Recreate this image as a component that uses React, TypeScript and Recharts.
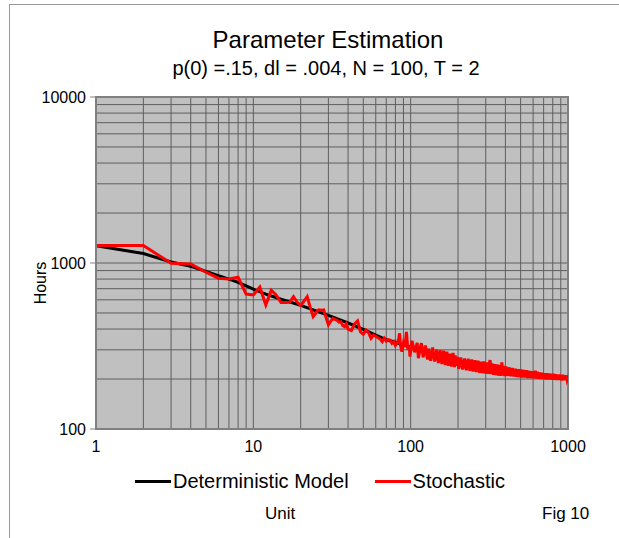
import React from "react";
import {
  CartesianGrid,
  Line,
  LineChart,
  ReferenceArea,
  XAxis,
  YAxis,
} from "recharts";

const FONT = "'Liberation Sans', Arial, sans-serif";

// deterministic model
const modelUnits = [
  1, 2, 3, 4, 5, 6, 7, 8, 9, 10, 12, 15, 20, 25, 30, 40, 50, 60, 70, 80, 90,
  100, 125, 150, 175, 200, 250, 300, 400, 500, 600, 700, 800, 900, 1000,
];
const modelHours = [
  1270, 1140, 1015, 955, 890, 840, 800, 765, 728, 695, 650, 605, 556, 515,
  484, 435, 398, 368, 345, 333, 322, 312, 292, 277, 264, 254, 244, 236, 224,
  217, 213, 210, 208, 206, 204,
];

// stochastic run (red), sampled along the noisy trace
const stochUnits = [
  1, 2, 3, 4, 5, 6, 7, 8, 9, 10,
  11, 12, 13, 14, 15, 16, 17, 18, 19, 20,
  21, 22, 23, 24, 25, 26, 27, 28, 29, 30,
  31, 32, 33, 34, 35, 36, 37, 38, 39, 40,
  42, 44, 46, 48, 50, 52, 54, 56, 58, 60,
  62, 64, 66, 68, 70, 72, 74, 76, 78, 80,
  82, 84, 85, 86, 88, 90, 92, 94, 96, 98,
  99, 102, 106, 110, 112, 116, 117, 120, 124, 128,
  130, 134, 138, 139, 142, 146, 150, 154, 158, 162,
  166, 170, 174, 178, 182, 186, 190, 192, 194, 198,
  202, 208, 214, 220, 226, 232, 238, 244, 250, 256,
  262, 268, 274, 280, 286, 292, 298, 304, 310, 316,
  320, 324, 330, 336, 342, 348, 354, 360, 366, 372,
  380, 384, 390, 396, 404, 414, 424, 434, 444, 454,
  464, 474, 484, 494, 504, 514, 524, 534, 544, 554,
  564, 574, 584, 594, 604, 614, 620, 628, 640, 652,
  664, 676, 688, 700, 712, 724, 736, 748, 760, 772,
  784, 796, 808, 820, 832, 844, 856, 868, 880, 892,
  904, 916, 928, 940, 952, 964, 976, 988, 1000,
];
const stochHours = [
  1275, 1275, 996, 985, 880, 810, 800, 820, 650, 642,
  716, 558, 685, 640, 578, 578, 580, 627, 580, 556,
  590, 627, 540, 476, 500, 522, 520, 522, 470, 424,
  445, 464, 458, 452, 440, 443, 420, 413, 430, 400,
  392, 430, 448, 385, 372, 395, 380, 352, 368, 362,
  355, 348, 336, 352, 338, 345, 343, 328, 336, 318,
  330, 350, 377, 322, 292, 330, 312, 385, 300, 318,
  273, 340, 290, 330, 267, 320, 329, 270, 318, 262,
  305, 258, 310, 292, 255, 300, 250, 298, 246, 296,
  243, 292, 240, 284, 238, 287, 236, 278, 240, 272,
  230, 270, 228, 266, 226, 265, 224, 262, 222, 260,
  220, 258, 218, 254, 217, 255, 216, 252, 215, 250,
  260, 214, 248, 212, 246, 211, 245, 210, 243, 209,
  252, 210, 240, 208, 238, 209, 235, 208, 233, 207,
  231, 206, 229, 205, 228, 204, 227, 204, 226, 203,
  224, 203, 223, 202, 223, 202, 225, 201, 221, 201,
  219, 200, 218, 200, 217, 199, 217, 199, 216, 199,
  215, 198, 215, 198, 214, 197, 213, 197, 213, 197,
  212, 196, 212, 197, 211, 197, 211, 197, 203,
];

const xTicks = [
  1, 2, 3, 4, 5, 6, 7, 8, 9, 10, 20, 30, 40, 50, 60, 70, 80, 90, 100, 200,
  300, 400, 500, 600, 700, 800, 900, 1000,
];
const yTicks = [
  100, 200, 300, 400, 500, 600, 700, 800, 900, 1000, 2000, 3000, 4000, 5000,
  6000, 7000, 8000, 9000, 10000,
];
const xLabels = [1, 10, 100, 1000];
const yLabels = [100, 1000, 10000];

const modelData = modelUnits.map((u, i) => ({ unit: u, hours: modelHours[i] }));
const stochData = stochUnits.map((u, i) => ({ unit: u, hours: stochHours[i] }));

const XTick = (props: any) => {
  const { x, y, payload } = props;
  if (!xLabels.includes(payload.value)) return <g />;
  return (
    <text x={x} y={y} dy="0.71em" textAnchor="middle" fontSize={16} fontFamily={FONT} fill="#000">
      {payload.value}
    </text>
  );
};

const YTick = (props: any) => {
  const { x, y, payload } = props;
  if (!yLabels.includes(payload.value)) return <g />;
  return (
    <g>
      <line x1={x + 6} x2={x + 12} y1={y} y2={y} stroke="#808080" />
      <text x={x + 2} y={y} dy="0.35em" textAnchor="end" fontSize={16} fontFamily={FONT} fill="#000">
        {payload.value}
      </text>
    </g>
  );
};

const text = (extra: React.CSSProperties): React.CSSProperties => ({
  position: "absolute",
  fontFamily: FONT,
  color: "#000",
  whiteSpace: "nowrap",
  lineHeight: 1,
  ...extra,
});

export default function App() {
  return (
    <div style={{ position: "absolute", left: 0, top: 0, width: 619, height: 538, background: "#fff" }}>
      <div style={{ position: "absolute", left: 9, top: 4, width: 610, height: 534, borderLeft: "1px solid #999", borderTop: "1px solid #999" }} />
      <div style={text({ left: 0, width: 656, top: 28, fontSize: 24, textAlign: "center" })}>
        Parameter Estimation
      </div>
      <div style={text({ left: 0, width: 652, top: 58, fontSize: 20, textAlign: "center" })}>
        p(0) =.15, dl = .004, N = 100, T = 2
      </div>
      <div style={{ position: "absolute", left: 0, top: 0 }}>
        <LineChart
          width={619}
          height={538}
          margin={{ top: 97, right: 51, left: 0, bottom: 79 }}
        >
          <CartesianGrid stroke="#5e5e5e" fill="#c0c0c0" strokeWidth={1} />
          <XAxis
            dataKey="unit"
            type="number"
            scale="log"
            domain={[1, 1000]}
            ticks={xTicks}
            interval={0}
            allowDataOverflow
            height={30}
            tickSize={6}
            tickMargin={6}
            tickLine={false}
            tick={<XTick />}
            axisLine={{ stroke: "#808080", strokeWidth: 2 }}
          />
          <YAxis
            dataKey="hours"
            type="number"
            scale="log"
            domain={[100, 10000]}
            ticks={yTicks}
            interval={0}
            allowDataOverflow
            width={96}
            tickSize={6}
            tickMargin={6}
            tickLine={false}
            tick={<YTick />}
            axisLine={{ stroke: "#808080", strokeWidth: 2 }}
          />
          <ReferenceArea x1={1} x2={1000} y1={100} y2={10000} fill="none" stroke="#808080" strokeWidth={2} ifOverflow="visible" />
          <Line
            data={modelData}
            dataKey="hours"
            type="linear"
            stroke="#000"
            strokeWidth={3}
            dot={false}
            isAnimationActive={false}
            name="Deterministic Model"
          />
          <Line
            data={stochData}
            dataKey="hours"
            type="linear"
            stroke="#ff0000"
            strokeWidth={3}
            dot={false}
            isAnimationActive={false}
            name="Stochastic"
          />
        </LineChart>
      </div>
      <div style={text({ left: 32, top: 275, width: 18, fontSize: 16, transform: "rotate(-90deg)", transformOrigin: "center", textAlign: "center", display: "flex", justifyContent: "center" })}>
        <span>Hours</span>
      </div>
      <div style={{ position: "absolute", left: 135, top: 470, display: "flex", alignItems: "center", fontFamily: FONT, fontSize: 20 }}>
        <span style={{ display: "inline-block", width: 36, height: 3, background: "#000", marginRight: 2 }} />
        <span>Deterministic Model</span>
        <span style={{ display: "inline-block", width: 36, height: 3, background: "#ff0000", marginLeft: 26, marginRight: 2 }} />
        <span>Stochastic</span>
      </div>
      <div style={text({ left: 265, top: 505, fontSize: 17 })}>Unit</div>
      <div style={text({ left: 542, top: 505, fontSize: 17 })}>Fig 10</div>
    </div>
  );
}
